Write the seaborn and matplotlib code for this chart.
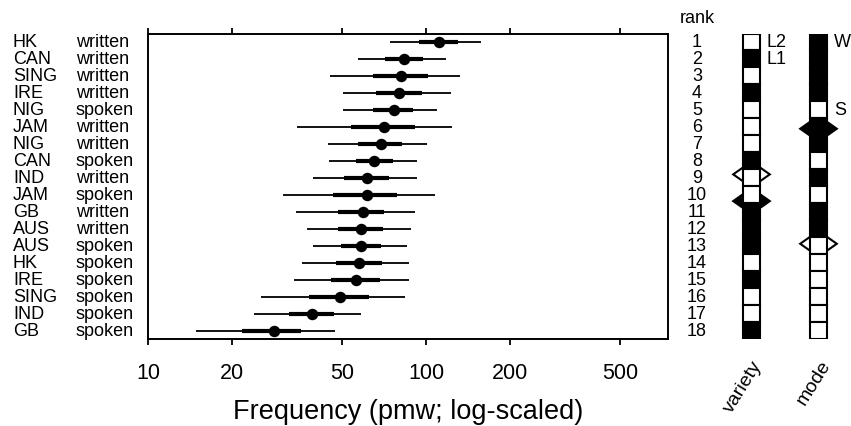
import numpy as np
import pandas as pd
import matplotlib
matplotlib.use("Agg")
import matplotlib.pyplot as plt
from matplotlib.patches import Rectangle, Polygon
import seaborn as sns

# ---------------- data ----------------
varieties = ["HK", "CAN", "SING", "IRE", "NIG", "JAM", "NIG", "CAN", "IND",
             "JAM", "GB", "AUS", "AUS", "HK", "IRE", "SING", "IND", "GB"]
modes = ["written", "written", "written", "written", "spoken", "written",
         "written", "spoken", "written", "spoken", "written", "written",
         "spoken", "spoken", "spoken", "spoken", "spoken", "spoken"]
variety_type = ["L2", "L1", "L2", "L1", "L2", "L2", "L2", "L1", "L2",
                "L2", "L1", "L1", "L1", "L2", "L1", "L2", "L2", "L1"]
estimate = [111.4, 83.0, 81.3, 80.2, 76.4, 70.7, 68.6, 65.2, 61.5,
            61.4, 59.2, 58.4, 58.2, 57.5, 56.0, 49.1, 39.0, 28.4]
ci95_lo = [74.2, 57.1, 45.2, 50.4, 50.4, 34.3, 44.3, 44.8, 39.3,
           30.5, 34.0, 37.4, 39.3, 35.7, 33.6, 25.5, 24.1, 14.9]
ci95_hi = [157.7, 117.8, 132.9, 123.3, 109.5, 124.3, 101.1, 92.9, 92.9,
           107.9, 91.0, 88.5, 85.5, 86.6, 86.9, 84.0, 58.4, 47.1]
ci50_lo = [94.4, 71.2, 64.3, 66.1, 64.6, 53.7, 57.1, 56.0, 50.8,
           46.4, 48.1, 48.4, 49.5, 47.5, 45.5, 38.0, 32.2, 21.8]
ci50_hi = [130.3, 97.3, 101.9, 96.5, 90.0, 91.2, 81.8, 76.3, 73.8,
           78.8, 70.6, 70.0, 68.9, 69.3, 68.3, 62.5, 46.8, 35.5]
x_ticks = [10, 20, 50, 100, 200, 500]
x_label = "Frequency (pmw; log-scaled)"

rank = list(range(1, len(estimate) + 1))
df = pd.DataFrame({"variety": varieties, "mode": modes, "vtype": variety_type,
                   "est": estimate, "lo95": ci95_lo, "hi95": ci95_hi,
                   "lo50": ci50_lo, "hi50": ci50_hi, "rank": rank})

# ---------------- style ----------------
sns.set_style("ticks")
plt.rcParams["font.family"] = ["Liberation Sans", "DejaVu Sans"]
for key in ["text.color", "axes.labelcolor", "xtick.color", "ytick.color",
            "axes.edgecolor", "xtick.labelcolor", "ytick.labelcolor"]:
    plt.rcParams[key] = "black"

FS = 13

W, H = 851, 427
fig = plt.figure(figsize=(W / 100, H / 100), dpi=100)

L, R, T, B = 148, 668, 34.5, 340
ax = fig.add_axes([L / W, 1 - B / H, (R - L) / W, (B - T) / H])

ax.hlines(df["rank"], df["lo95"], df["hi95"], color="black", lw=1.3,
          capstyle="butt", zorder=2)
ax.hlines(df["rank"], df["lo50"], df["hi50"], color="black", lw=3.0,
          capstyle="butt", zorder=3)
sns.scatterplot(data=df, x="est", y="rank", ax=ax, color="black", s=68,
                edgecolor="black", linewidth=0, zorder=4, legend=False)

ax.set_xscale("log")
ax.set_xlim(10, 742)
ax.set_ylim(len(rank) + 0.5, 0.5)
ax.set_xticks(x_ticks)
ax.set_xticklabels([str(t) for t in x_ticks])
ax.minorticks_off()
ax.tick_params(axis="x", which="major", direction="out", length=4.5, width=1.3,
               labelsize=15.5, pad=12, top=True, labeltop=False,
               color="black", labelcolor="black")
ax.set_yticks([])
ax.set_ylabel("")
ax.set_xlabel(x_label, fontsize=19.5, labelpad=11, color="black")
for sp in ax.spines.values():
    sp.set_visible(True)
    sp.set_linewidth(1.4)
    sp.set_color("black")

# ---------------- left labels ----------------
lx = fig.add_axes([0, 1 - B / H, L / W, (B - T) / H])
lx.set_xlim(0, L)
lx.set_ylim(len(rank) + 0.5, 0.5)
lx.axis("off")
for r, v, m in zip(rank, varieties, modes):
    lx.text(13, r, v, ha="left", va="center", fontsize=FS, color="black")
    lx.text(76, r, m, ha="left", va="center", fontsize=FS, color="black")

# ---------------- right panel ----------------
rx = fig.add_axes([R / W, 1 - B / H, (W - R) / W, (B - T) / H])
rx.set_xlim(R, W)
rx.set_ylim(len(rank) + 0.5, 0.5)
rx.axis("off")

rank_x = 697
var_x = 751.5
mode_x = 818.5
cw = 17.5
dw, dh = 18.3, 0.76

rx.text(rank_x, 0.5 - 16.5 / 17, "rank", ha="center", va="center",
        fontsize=FS, clip_on=False, color="black")
for r in rank:
    rx.text(rank_x, r, str(r), ha="center", va="center", fontsize=FS,
            color="black")


def diamond(cx, cy, filled):
    poly = Polygon([(cx - dw, cy), (cx, cy - dh), (cx + dw, cy), (cx, cy + dh)],
                   closed=True, facecolor="black" if filled else "white",
                   edgecolor="black", lw=1.5, zorder=1)
    rx.add_patch(poly)


# mean ranks per group (computed from data)
for grp, filled in [("L1", True), ("L2", False)]:
    diamond(var_x, df.loc[df["vtype"] == grp, "rank"].mean(), filled)
for grp, filled in [("written", True), ("spoken", False)]:
    diamond(mode_x, df.loc[df["mode"] == grp, "rank"].mean(), filled)

for r, vt, m in zip(rank, variety_type, modes):
    rx.add_patch(Rectangle((var_x - cw / 2, r - 0.5), cw, 1,
                           facecolor="black" if vt == "L1" else "white",
                           edgecolor="black", lw=1.5, zorder=2))
    rx.add_patch(Rectangle((mode_x - cw / 2, r - 0.5), cw, 1,
                           facecolor="black" if m == "written" else "white",
                           edgecolor="black", lw=1.5, zorder=2))

rx.text(767, 1, "L2", ha="left", va="center", fontsize=FS, color="black")
rx.text(767, 2, "L1", ha="left", va="center", fontsize=FS, color="black")
rx.text(834, 1, "W", ha="left", va="center", fontsize=FS, color="black")
rx.text(834, 5, "S", ha="left", va="center", fontsize=FS, color="black")

rx.text(743, len(rank) + 0.5 + 47 / 17, "variety", rotation=58, ha="center",
        va="center", fontsize=14, clip_on=False, color="black")
rx.text(814, len(rank) + 0.5 + 43 / 17, "mode", rotation=58, ha="center",
        va="center", fontsize=14, clip_on=False, color="black")

fig.savefig("out.png", dpi=100)
